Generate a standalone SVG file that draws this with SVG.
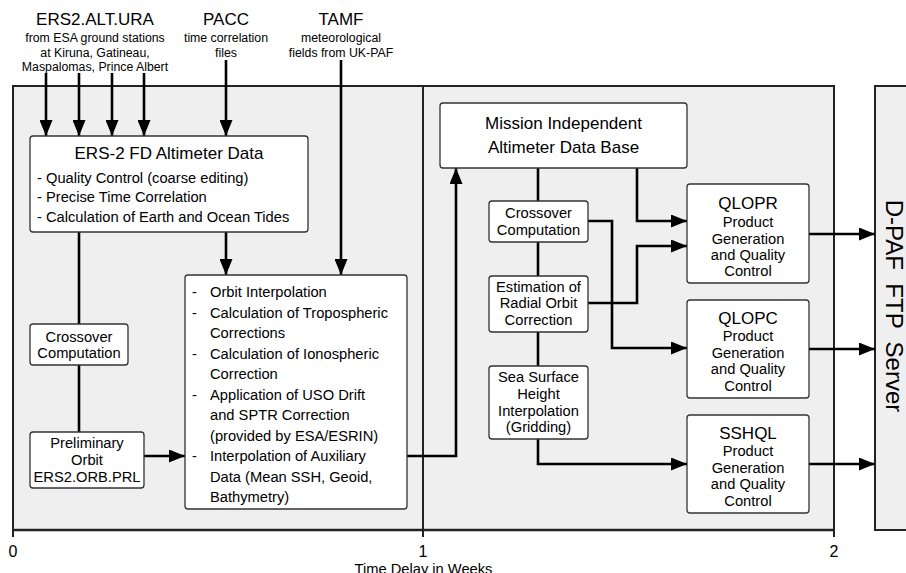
<svg xmlns="http://www.w3.org/2000/svg" width="906" height="573" viewBox="0 0 906 573">
<defs>
<marker id="ah" markerUnits="userSpaceOnUse" markerWidth="16" markerHeight="13" refX="16" refY="6.5" orient="auto">
<path d="M0,0 L16,6.5 L0,13 z" fill="#000"/>
</marker>
<style>
text{font-family:"Liberation Sans",Arial,Helvetica,sans-serif;fill:#000}
.panel{fill:#efefef;stroke:#222;stroke-width:2}
.box{fill:#fff;stroke:#333;stroke-width:1.3}
.c{fill:none;stroke:#000;stroke-width:2.6}
.a{marker-end:url(#ah)}
.t17{font-size:17px}
.t15{font-size:14.7px}
.t12{font-size:12.3px}
.m{text-anchor:middle}
</style>
</defs>
<rect width="906" height="573" fill="#fff"/>

<g id="panels">
<rect class="panel" x="13" y="86" width="821" height="444"/>
<rect class="panel" x="875" y="86" width="40" height="444"/>
<line x1="423" y1="86" x2="423" y2="537" stroke="#222" stroke-width="2"/>
<line x1="13" y1="530" x2="834" y2="530" stroke="#222" stroke-width="2.6"/>
<line x1="13" y1="530" x2="13" y2="537" stroke="#222" stroke-width="2"/>
<line x1="834" y1="530" x2="834" y2="537" stroke="#222" stroke-width="2"/>
</g>

<g id="dpaf">
<text font-size="24" text-anchor="middle" transform="translate(886,306) rotate(90)" xml:space="preserve">D-PAF  FTP  Server</text>
</g>

<g id="axis">
<text class="m" x="13" y="557" font-size="16">0</text>
<text class="m" x="423" y="557" font-size="16">1</text>
<text class="m" x="834" y="557" font-size="16">2</text>
<text class="m t15" x="423.5" y="574">Time Delay in Weeks</text>
</g>

<g id="src-ura">
<text class="m t17" x="95" y="25">ERS2.ALT.URA</text>
<text class="m t12" x="95" y="42">from ESA ground stations</text>
<text class="m t12" x="95" y="57">at Kiruna, Gatineau,</text>
<text class="m t12" x="95" y="71">Maspalomas, Prince Albert</text>
</g>
<g id="src-pacc">
<text class="m t17" x="226" y="25">PACC</text>
<text class="m t12" x="226" y="42">time correlation</text>
<text class="m t12" x="226" y="57">files</text>
</g>
<g id="src-tamf">
<text class="m t17" x="341" y="25">TAMF</text>
<text class="m t12" x="341" y="42">meteorological</text>
<text class="m t12" x="341" y="57">fields from UK-PAF</text>
</g>

<g id="connectors">
<line class="c a" x1="46" y1="73" x2="46" y2="136"/>
<line class="c a" x1="79" y1="73" x2="79" y2="136"/>
<line class="c a" x1="112" y1="73" x2="112" y2="136"/>
<line class="c a" x1="144" y1="73" x2="144" y2="136"/>
<line class="c a" x1="226" y1="60" x2="226" y2="136"/>
<line class="c a" x1="341" y1="60" x2="341" y2="275"/>
<line class="c a" x1="226" y1="232" x2="226" y2="275"/>
<line class="c" x1="79" y1="232" x2="79" y2="324"/>
<line class="c" x1="79" y1="365" x2="79" y2="432"/>
<line class="c a" x1="144" y1="456" x2="185" y2="456"/>
<polyline class="c a" points="407,456 456,456 456,168"/>
<line class="c" x1="538" y1="168" x2="538" y2="201"/>
<line class="c" x1="538" y1="242" x2="538" y2="276"/>
<line class="c" x1="538" y1="332" x2="538" y2="366"/>
<polyline class="c a" points="637,168 637,221 687,221"/>
<polyline class="c a" points="588,221 612,221 612,348 687,348"/>
<polyline class="c a" points="588,303 637,303 637,246 687,246"/>
<polyline class="c a" points="538,439 538,464 687,464"/>
<line class="c a" x1="809" y1="234" x2="875" y2="234"/>
<line class="c a" x1="809" y1="349" x2="875" y2="349"/>
<line class="c a" x1="809" y1="464" x2="875" y2="464"/>
</g>

<g id="ers2fd">
<rect class="box" x="30" y="136" width="278" height="96" rx="3"/>
<text class="m t17" x="169" y="159">ERS-2 FD Altimeter Data</text>
<text class="t15" x="37" y="183">- Quality Control (coarse editing)</text>
<text class="t15" x="37" y="202">- Precise Time Correlation</text>
<text class="t15" x="37" y="222">- Calculation of Earth and Ocean Tides</text>
</g>

<g id="crossover-left">
<rect class="box" x="30" y="324" width="98" height="41" rx="3"/>
<text class="m t15" x="79" y="342">Crossover</text>
<text class="m t15" x="79" y="358">Computation</text>
</g>

<g id="prelim-orbit">
<rect class="box" x="30" y="432" width="114" height="56" rx="3"/>
<text class="m t15" x="87" y="448">Preliminary</text>
<text class="m t15" x="87" y="465">Orbit</text>
<text class="m t15" x="87" y="482">ERS2.ORB.PRL</text>
</g>

<g id="corrections">
<rect class="box" x="185" y="275" width="222" height="234" rx="3"/>
<g class="t15">
<text x="192" y="297">-</text><text x="210" y="297">Orbit Interpolation</text>
<text x="192" y="317.5">-</text><text x="210" y="317.5">Calculation of Tropospheric</text>
<text x="210" y="338">Corrections</text>
<text x="192" y="358.5">-</text><text x="210" y="358.5">Calculation of Ionospheric</text>
<text x="210" y="379">Correction</text>
<text x="192" y="399.5">-</text><text x="210" y="399.5">Application of USO Drift</text>
<text x="210" y="420">and SPTR Correction</text>
<text x="210" y="440.5">(provided by ESA/ESRIN)</text>
<text x="192" y="461">-</text><text x="210" y="461">Interpolation of Auxiliary</text>
<text x="210" y="481.5">Data (Mean SSH, Geoid,</text>
<text x="210" y="502">Bathymetry)</text>
</g>
</g>

<g id="midb">
<rect class="box" x="440" y="103" width="247" height="65" rx="3"/>
<text class="m t17" x="563.5" y="129">Mission Independent</text>
<text class="m t17" x="563.5" y="153">Altimeter Data Base</text>
</g>

<g id="crossover-right">
<rect class="box" x="489" y="201" width="99" height="41" rx="3"/>
<text class="m t15" x="538.5" y="218">Crossover</text>
<text class="m t15" x="538.5" y="235">Computation</text>
</g>

<g id="radial-orbit">
<rect class="box" x="489" y="276" width="99" height="56" rx="3"/>
<text class="m t15" x="538.5" y="292">Estimation of</text>
<text class="m t15" x="538.5" y="308">Radial Orbit</text>
<text class="m t15" x="538.5" y="325">Correction</text>
</g>

<g id="ssh-interp">
<rect class="box" x="489" y="366" width="99" height="73" rx="3"/>
<text class="m t15" x="538.5" y="382">Sea Surface</text>
<text class="m t15" x="538.5" y="399">Height</text>
<text class="m t15" x="538.5" y="416">Interpolation</text>
<text class="m t15" x="538.5" y="432">(Gridding)</text>
</g>

<g id="qlopr">
<rect class="box" x="687" y="184" width="122" height="99" rx="3"/>
<text class="m t17" x="748" y="209">QLOPR</text>
<text class="m t15" x="748" y="227">Product</text>
<text class="m t15" x="748" y="243.5">Generation</text>
<text class="m t15" x="748" y="260">and Quality</text>
<text class="m t15" x="748" y="276">Control</text>
</g>

<g id="qlopc">
<rect class="box" x="687" y="300" width="122" height="98" rx="3"/>
<text class="m t17" x="748" y="324">QLOPC</text>
<text class="m t15" x="748" y="341">Product</text>
<text class="m t15" x="748" y="357.5">Generation</text>
<text class="m t15" x="748" y="374">and Quality</text>
<text class="m t15" x="748" y="390.5">Control</text>
</g>

<g id="sshql">
<rect class="box" x="687" y="415" width="122" height="98" rx="3"/>
<text class="m t17" x="748" y="439">SSHQL</text>
<text class="m t15" x="748" y="456">Product</text>
<text class="m t15" x="748" y="472.5">Generation</text>
<text class="m t15" x="748" y="489">and Quality</text>
<text class="m t15" x="748" y="505.5">Control</text>
</g>
</svg>
